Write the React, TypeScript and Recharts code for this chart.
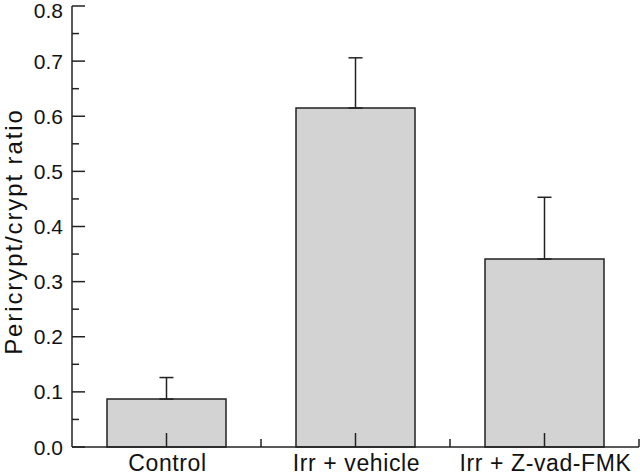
import { Bar, BarChart, ErrorBar, XAxis, YAxis } from 'recharts'

const categories = ['Control', 'Irr + vehicle', 'Irr + Z-vad-FMK']
const ratios = [0.087, 0.615, 0.341]
const upperErrors = [0.039, 0.091, 0.112]
const yTicks = [0, 0.05, 0.1, 0.15, 0.2, 0.25, 0.3, 0.35, 0.4, 0.45, 0.5, 0.55, 0.6, 0.65, 0.7, 0.75, 0.8]

const data = categories.map((name, i) => ({
  name,
  ratio: ratios[i],
  err: [0, upperErrors[i]],
}))

const font = '"Liberation Sans", Arial, Helvetica, sans-serif'
const ink = '#222'

const YTick = (props: any) => {
  const { x, y, payload } = props
  const major = Math.round(payload.value * 20) % 2 === 0
  return (
    <g>
      <line x1={x} x2={x + (major ? 13 : 7)} y1={y} y2={y} stroke={ink} strokeWidth={1.5} />
      {major && (
        <text
          x={x - 9}
          y={Math.max(y, 10)}
          textAnchor="end"
          dominantBaseline="central"
          fontFamily={font}
          fontSize={21}
          fill="#111"
        >
          {payload.value.toFixed(1)}
        </text>
      )}
    </g>
  )
}

const XTick = (props: any) => {
  const { x, y, payload, width, visibleTicksCount } = props
  const half = width / visibleTicksCount / 2
  return (
    <g>
      <line x1={x} x2={x} y1={y} y2={y - 14} stroke={ink} strokeWidth={1.5} />
      <line x1={x + half} x2={x + half} y1={y} y2={y - 8} stroke={ink} strokeWidth={1.5} />
      <text
        x={x + 1}
        y={y + 24}
        textAnchor="middle"
        fontFamily={font}
        fontSize={23}
        letterSpacing={0.6}
        fill="#111"
      >
        {payload.value}
      </text>
    </g>
  )
}

const YLabel = (props: any) => {
  const { viewBox } = props
  const cx = viewBox.x + 22
  const cy = viewBox.y + viewBox.height / 2 + 5
  return (
    <text
      x={cx}
      y={cy}
      transform={`rotate(-90, ${cx}, ${cy})`}
      textAnchor="middle"
      fontFamily={font}
      fontSize={24}
      letterSpacing={1.9}
      fill="#111"
    >
      Pericrypt/crypt ratio
    </text>
  )
}

export default function App() {
  return (
    <div style={{ position: 'absolute', left: 0, top: 0, background: '#fff' }}>
      <BarChart width={640} height={476} data={data} margin={{ top: 6, right: 1, bottom: 0, left: 0 }}>
        <Bar
          dataKey="ratio"
          fill="#d3d3d3"
          stroke={ink}
          strokeWidth={1.5}
          barSize={119}
          isAnimationActive={false}
        >
          <ErrorBar dataKey="err" direction="y" width={7} stroke={ink} strokeWidth={1.5} />
        </Bar>
        <XAxis
          dataKey="name"
          height={29}
          tickSize={0}
          tickMargin={0}
          tickLine={false}
          interval={0}
          axisLine={{ stroke: ink, strokeWidth: 1.5 }}
          tick={<XTick />}
        />
        <YAxis
          width={72}
          domain={[0, 0.8]}
          ticks={yTicks}
          interval={0}
          tickSize={0}
          tickMargin={0}
          tickLine={false}
          axisLine={{ stroke: ink, strokeWidth: 1.5 }}
          tick={<YTick />}
          label={<YLabel />}
        />
      </BarChart>
    </div>
  )
}
